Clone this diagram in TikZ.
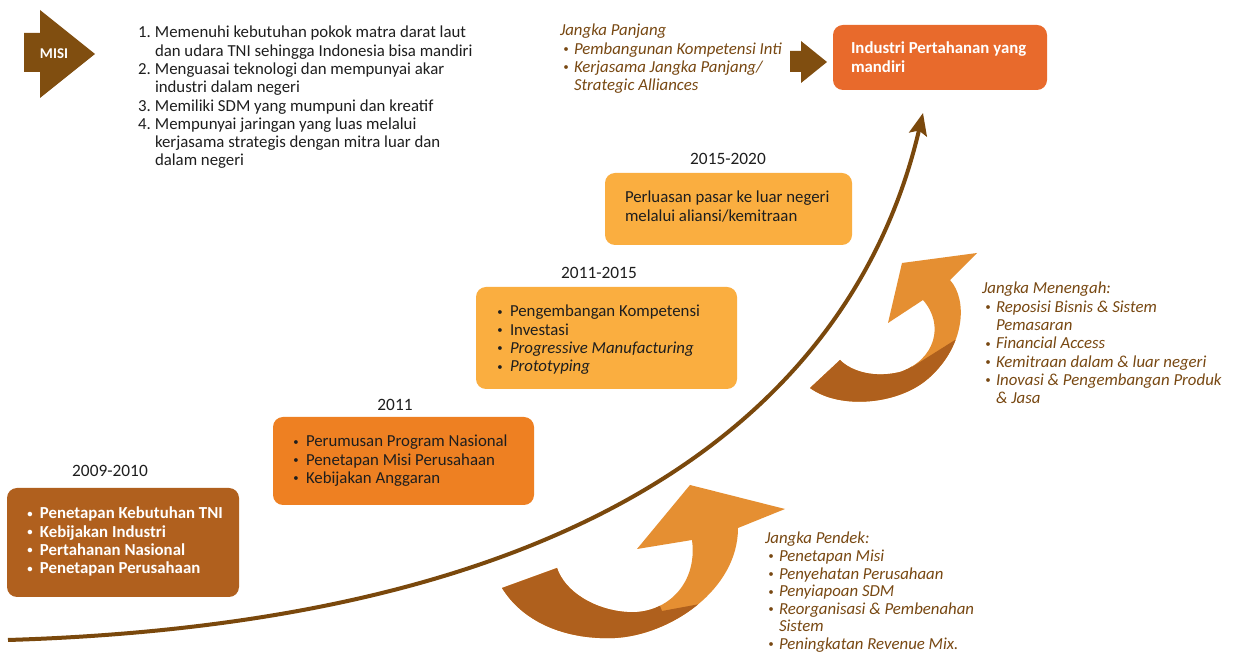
\documentclass[tikz,border=0pt]{standalone}
\usepackage{fontspec}
\setmainfont{Carlito}
\usetikzlibrary{arrows.meta,fit}

\definecolor{misibrown}{RGB}{128,78,16}
\definecolor{curvebrown}{RGB}{122,72,12}
\definecolor{goalorange}{RGB}{232,106,44}
\definecolor{lightstage}{RGB}{250,174,64}
\definecolor{midstage}{RGB}{238,128,34}
\definecolor{darkstage}{RGB}{176,96,30}
\definecolor{curllight}{RGB}{229,143,50}
\definecolor{curldark}{RGB}{175,96,29}
\definecolor{jangkatext}{RGB}{120,72,18}
\definecolor{darktext}{RGB}{30,30,30}

\newcommand{\txtsize}{\fontsize{12.6}{13.7}\selectfont}
\newcommand{\tightsize}{\fontsize{12.6}{13.2}\selectfont}
\newcommand{\yrsize}{\fontsize{13}{15}\selectfont}
\newcommand{\bul}{\hspace*{1pt}\raisebox{1.2pt}{\fontsize{8}{8}\selectfont\textbullet}}

\begin{document}
\begin{tikzpicture}[x=0.75pt,y=-0.75pt,
  txt/.style={inner sep=0pt, outer sep=0pt, anchor=base west, font=\txtsize, text=darktext},
  jtxt/.style={txt, text=jangkatext, font=\txtsize\itshape},
  wtxt/.style={txt, text=white, font=\txtsize\bfseries},
  year/.style={inner sep=0pt, anchor=base, font=\yrsize, text=darktext},
  stage/.style={rectangle, rounded corners=7.5pt, inner sep=0pt, draw=none},
  maincurve/.style={draw=curvebrown, line width=3pt,
    -{Stealth[length=16.5pt,width=13.5pt,inset=3pt]}},
  blockarrow/.style={fill=misibrown}
]
\useasboundingbox (0,0) rectangle (1233,655);
\fill[white] (0,0) rectangle (1233,655);

% --- mission block -------------------------------------------------
\fill[blockarrow] (24,33) -- (40,33) -- (40,10) -- (95,54) -- (40,98)
  -- (40,72) -- (24,72) -- cycle;
\node[inner sep=0pt, text=white, font=\fontsize{11.2}{13}\selectfont\bfseries]
  (misi) at (54,54) {MISI};

\node[txt] (mission) at (138,38) {\begin{tabular}[t]{@{}p{12.75pt}@{}l@{}}
1. & Memenuhi kebutuhan pokok matra darat laut\\
   & dan udara TNI sehingga Indonesia bisa mandiri\\
2. & Menguasai teknologi dan mempunyai akar\\
   & industri dalam negeri\\
3. & Memiliki SDM yang mumpuni dan kreatif\\
4. & Mempunyai jaringan yang luas melalui\\
   & kerjasama strategis dengan mitra luar dan\\
   & dalam negeri
\end{tabular}};

% --- long-term goal ------------------------------------------------
\node[jtxt] (panjang) at (560,36) {\begin{tabular}[t]{@{\hspace{1.5pt}}p{9pt}@{}l@{}}
\multicolumn{2}{@{}l@{}}{Jangka Panjang}\\
\bul & Pembangunan Kompetensi Inti\\
\bul & Kerjasama Jangka Panjang/\\
     & Strategic Alliances
\end{tabular}};

\fill[blockarrow] (790,51) -- (801,51) -- (801,41) -- (827,62) -- (801,83)
  -- (801,72) -- (790,72) -- cycle;

\node[stage, fill=goalorange, fit={(833,25)(1047,90)}] (goal) {};
\node[wtxt] (goaltext) at (851,54) {\begin{tabular}[t]{@{}l@{}}
Industri Pertahanan yang\\ mandiri
\end{tabular}};

% --- growth curve --------------------------------------------------
\coordinate (cstart) at (8,640);
\coordinate (cend) at (923,113);
\draw[maincurve] (cstart) .. controls (658,620) and (866,357) .. (cend);

% --- stages ----------------------------------------------------------
\node[year] (y1) at (110,477) {2009-2010};
\node[stage, fill=darkstage, fit={(7,488)(239,597)}] (s1) {};
\node[wtxt] (s1text) at (26,519) {\begin{tabular}[t]{@{}p{10.5pt}@{}l@{}}
\bul & Penetapan Kebutuhan TNI\\
\bul & Kebijakan Industri\\
\bul & Pertahanan Nasional\\
\bul & Penetapan Perusahaan
\end{tabular}};

\node[year] (y2) at (395,411) {2011};
\node[stage, fill=midstage, fit={(273,417)(534,505)}] (s2) {};
\node[txt] (s2text) at (292,447) {\begin{tabular}[t]{@{}p{10.5pt}@{}l@{}}
\bul & Perumusan Program Nasional\\
\bul & Penetapan Misi Perusahaan\\
\bul & Kebijakan Anggaran
\end{tabular}};

\node[year] (y3) at (599,279) {2011-2015};
\node[stage, fill=lightstage, fit={(476,287)(737,389)}] (s3) {};
\node[txt] (s3text) at (496,317) {\begin{tabular}[t]{@{}p{10.5pt}@{}l@{}}
\bul & Pengembangan Kompetensi\\
\bul & Investasi\\
\bul & \textit{Progressive Manufacturing}\\
\bul & \textit{Prototyping}
\end{tabular}};

\node[year] (y4) at (728,165) {2015-2020};
\node[stage, fill=lightstage, fit={(605,173)(852,245)}] (s4) {};
\node[txt] (s4text) at (625,203) {\begin{tabular}[t]{@{}l@{}}
Perluasan pasar ke luar negeri\\
melalui aliansi/kemitraan
\end{tabular}};

% --- short-term turning arrow -------------------------------------
\fill[curllight] (502,588) .. controls (525,625) and (570,640) .. (615,638)
  .. controls (670,635) and (738,590) .. (738,528) -- (785,509) -- (690,485)
  -- (637,549) -- (692,540) .. controls (698,585) and (665,615) .. (627,612)
  .. controls (595,610) and (565,592) .. (557,568) -- cycle;
\begin{scope}
  \clip (502,588) .. controls (525,625) and (570,640) .. (615,638)
    .. controls (670,635) and (738,590) .. (738,528) -- (785,509) -- (690,485)
    -- (637,549) -- (692,540) .. controls (698,585) and (665,615) .. (627,612)
    .. controls (595,610) and (565,592) .. (557,568) -- cycle;
  \fill[curldark] (662,611) -- (700,604) -- (720,680) -- (470,680)
    -- (470,555) -- (640,555) -- cycle;
\end{scope}

\node[jtxt, font=\tightsize\itshape] (pendek) at (765,544) {\begin{tabular}[t]{@{\hspace{1.5pt}}p{9pt}@{}l@{}}
\multicolumn{2}{@{}l@{}}{Jangka Pendek:}\\
\bul & Penetapan Misi\\
\bul & Penyehatan Perusahaan\\
\bul & Penyiapoan SDM\\
\bul & Reorganisasi \& Pembenahan\\
     & Sistem\\
\bul & Peningkatan Revenue Mix.
\end{tabular}};

% --- mid-term turning arrow ---------------------------------------
\fill[curllight] (810,388) .. controls (840,410) and (900,405) .. (930,377)
  .. controls (965,345) and (968,300) .. (950,280) -- (977,253) -- (902,263)
  -- (888,323) -- (923,300) .. controls (945,325) and (935,360) .. (900,372)
  .. controls (875,378) and (852,372) .. (840,360) -- cycle;
\begin{scope}
  \clip (810,388) .. controls (840,410) and (900,405) .. (930,377)
    .. controls (965,345) and (968,300) .. (950,280) -- (977,253) -- (902,263)
    -- (888,323) -- (923,300) .. controls (945,325) and (935,360) .. (900,372)
    .. controls (875,378) and (852,372) .. (840,360) -- cycle;
  \fill[curldark] (912,367) -- (955,340) -- (1000,345) -- (1000,430)
    -- (790,430) -- (790,345) -- (905,345) -- cycle;
\end{scope}

\node[jtxt] (menengah) at (982,294) {\begin{tabular}[t]{@{\hspace{1.5pt}}p{9pt}@{}l@{}}
\multicolumn{2}{@{}l@{}}{Jangka Menengah:}\\
\bul & Reposisi Bisnis \& Sistem\\
     & Pemasaran\\
\bul & Financial Access\\
\bul & Kemitraan dalam \& luar negeri\\
\bul & Inovasi \& Pengembangan Produk\\
     & \& Jasa
\end{tabular}};
\end{tikzpicture}
\end{document}
